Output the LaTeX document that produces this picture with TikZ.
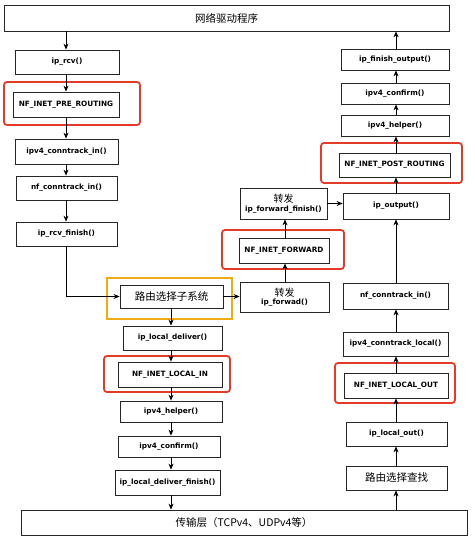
\documentclass[tikz,border=0pt]{standalone}
\usepackage{fontspec}
\newfontfamily\codefont{DejaVu Sans}
\newfontfamily\cjk{Noto Sans CJK SC}
\usetikzlibrary{arrows.meta}
\definecolor{hookred}{RGB}{228,58,40}
\definecolor{hookorange}{RGB}{240,170,20}
\tikzset{
  fbox/.style={draw=black!85, line width=0.8pt, fill=white, inner sep=1pt, align=center, font=\codefont\bfseries\fontsize{7.3}{8.6}\selectfont},
  cbox/.style={fbox, font=\cjk\fontsize{10.5}{12}\selectfont},
  arr/.style={draw=black, line width=0.8pt, -{Stealth[length=6pt,width=5pt]}},
  redframe/.style={draw=hookred, line width=1.8pt, rounded corners=3pt},
  orangeframe/.style={draw=hookorange, line width=2.6pt},
}
\newcommand{\bx}[6]{\node[#1, minimum width=#4pt, minimum height=#5pt] (#2) at (#3) {#6};}
\newcommand{\zf}{{\cjk\mdseries\fontsize{10}{11}\selectfont 转发}}
\begin{document}
\begin{tikzpicture}[x=1pt,y=-1pt]
\useasboundingbox (0,0) rectangle (474,540);
% highlight frames
\draw[redframe] (4,82) rectangle (140,125);
\draw[orangeframe] (107,278) rectangle (232,319);
\draw[redframe] (104,356) rectangle (230,392);
\draw[redframe] (222,230) rectangle (344,269);
\draw[redframe] (321,143) rectangle (462,183);
\draw[redframe] (335,363) rectangle (455,403);
% boxes
\bx{cbox}{top}{226.5,18}{445}{26}{网络驱动程序}
\bx{cbox}{bottom}{244,522.5}{446}{25}{传输层（TCPv4、UDPv4等）}
% left column
\bx{fbox}{iprcv}{67,62}{104}{24}{ip\_rcv()}
\bx{fbox}{pre}{66,104.5}{106}{25}{NF\_INET\_PRE\_ROUTING}
\bx{fbox}{ctin}{66.5,151.5}{103}{25}{ipv4\_conntrack\_in()}
\bx{fbox}{nfct}{66.5,188}{101}{24}{nf\_conntrack\_in()}
\bx{fbox}{rcvfin}{66.5,234}{101}{24}{ip\_rcv\_finish()}
% middle lower column
\bx{cbox}{route}{171.5,296.5}{103}{23}{路由选择子系统}
\bx{fbox}{ldel}{172.5,338}{99}{24}{ip\_local\_deliver()}
\bx{fbox}{lin}{170,374.5}{104}{25}{NF\_INET\_LOCAL\_IN}
\bx{fbox}{helperL}{171,411.5}{102}{21}{ipv4\_helper()}
\bx{fbox}{confirmL}{169,446.5}{102}{21}{ipv4\_confirm()}
\bx{fbox}{ldfin}{167.5,482.5}{105}{25}{ip\_local\_deliver\_finish()}
% forward column
\bx{fbox}{fwdfin}{283.5,203.5}{87}{31}{\zf\\ip\_forward\_finish()}
\bx{fbox}{fwdhook}{284,250.5}{90}{25}{NF\_INET\_FORWARD}
\bx{fbox}{fwd}{284.5,297}{89}{30}{\zf\\ip\_forwad()}
% right column
\bx{fbox}{finout}{395,59.5}{108}{21}{ip\_finish\_output()}
\bx{fbox}{confirmR}{395,93.5}{108}{21}{ipv4\_confirm()}
\bx{fbox}{helperR}{395,125.5}{108}{21}{ipv4\_helper()}
\bx{fbox}{post}{394.5,165}{111}{24}{NF\_INET\_POST\_ROUTING}
\bx{fbox}{output}{396,206}{106}{26}{ip\_output()}
\bx{fbox}{nfctR}{395.5,296}{105}{26}{nf\_conntrack\_in()}
\bx{fbox}{ctlocal}{395.5,344}{105}{24}{ipv4\_conntrack\_local()}
\bx{fbox}{lout}{396,385.5}{104}{25}{NF\_INET\_LOCAL\_OUT}
\bx{fbox}{ipout}{396.5,434}{101}{24}{ip\_local\_out()}
\bx{cbox}{rtlookup}{396.5,478}{101}{24}{路由选择查找}
% left column arrows
\coordinate (lx) at (66,0);
\draw[arr] (lx |- top.south) -- (lx |- iprcv.north);
\draw[arr] (lx |- iprcv.south) -- (lx |- pre.north);
\draw[arr] (lx |- pre.south) -- (lx |- ctin.north);
\draw[arr] (lx |- ctin.south) -- (lx |- nfct.north);
\draw[arr] (lx |- nfct.south) -- (lx |- rcvfin.north);
\draw[arr] (lx |- rcvfin.south) -- (lx |- route.west) -- (route.west);
% middle lower arrows
\coordinate (mx) at (171,0);
\draw[arr] (mx |- route.south) -- (mx |- ldel.north);
\draw[arr] (mx |- ldel.south) -- (mx |- lin.north);
\draw[arr] (mx |- lin.south) -- (mx |- helperL.north);
\draw[arr] (mx |- helperL.south) -- (mx |- confirmL.north);
\draw[arr] (mx |- confirmL.south) -- (mx |- ldfin.north);
\draw[arr] (mx |- ldfin.south) -- (mx |- bottom.north);
% forward path
\draw[arr] (route.east) -- (route.east -| fwd.west);
\coordinate (fx) at (285,0);
\draw[arr] (fx |- fwd.north) -- (fx |- fwdhook.south);
\draw[arr] (fx |- fwdhook.north) -- (fx |- fwdfin.south);
\draw[arr] (fwdfin.east) -- (fwdfin.east -| output.west);
% right column arrows (upward)
\coordinate (rx) at (396,0);
\draw[arr] (rx |- bottom.north) -- (rx |- rtlookup.south);
\draw[arr] (rx |- rtlookup.north) -- (rx |- ipout.south);
\draw[arr] (rx |- ipout.north) -- (rx |- lout.south);
\draw[arr] (rx |- lout.north) -- (rx |- ctlocal.south);
\draw[arr] (rx |- ctlocal.north) -- (rx |- nfctR.south);
\draw[arr] (rx |- nfctR.north) -- (rx |- output.south);
\draw[arr] (rx |- output.north) -- (rx |- post.south);
\draw[arr] (rx |- post.north) -- (rx |- helperR.south);
\draw[arr] (rx |- helperR.north) -- (rx |- confirmR.south);
\draw[arr] (rx |- confirmR.north) -- (rx |- finout.south);
\draw[arr] (rx |- finout.north) -- (rx |- top.south);
\end{tikzpicture}
\end{document}
